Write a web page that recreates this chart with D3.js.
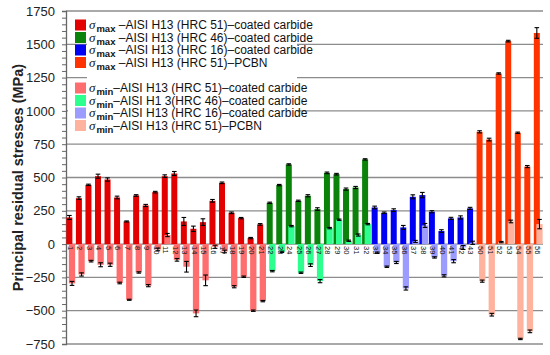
<!DOCTYPE html>
<html>
<head>
<meta charset="utf-8">
<script src="https://cdn.jsdelivr.net/npm/d3@7"></script>
<style>
  body { margin: 0; background: #fff; }
  svg { display: block; font-family: Arial, "Liberation Sans", sans-serif; }
</style>
</head>
<body>
<div class="chart"></div>
<script>
let FRAME_WIDTH = 550;
let FRAME_HEIGHT = 355;
let PLOT = {left: 66, right: 543, top: 11, bottom: 344};

// sample numbers along the zero line
let SAMPLES = ["1","2","3","4","5","6","7","8","9","10","11","12","13","14","15","16","17","18","19","20","21",
               "22","23","24","25","26","27","28","29","30","31","32",
               "33","34","35","36","37","38","39","40","41","42","43",
               "50","51","52","53","54","55","56"];
let GROUP_SIZES = [21, 11, 11, 7];

let SIGMA_MAX = [200, 345, 445, 510, 485, 350, 170, 365, 290, 390, 510, 530, 170, 115, 165, 325, 460, 235, 195, 45, 148,
                 310, 443, 598, 325, 363, 263, 535, 525, 413, 425, 636,
                 275, 235, 255, 125, 355, 368, 243, 98, 193, 200, 268,
                 843, 785, 1281, 1524, 836, 582, 1585];
let SIGMA_MIN = [-295, -228, -128, -155, -155, -292, -418, -213, -312, -40, 68, -118, -170, -520, -272, -20, -55, -320, -245, -500, -428,
                 -203, -58, 135, -215, -158, -278, 120, 183, 25, 68, 150,
                 -65, -170, -138, -333, 20, 140, -100, -238, -128, -25, 10,
                 -278, -530, 15, 170, -712, -655, 150];
let ERR_MAX = [15, 10, 5, 15, 12, 10, 4, 6, 8, 6, 10, 15, 30, 20, 25, 10, 6, 6, 5, 5, 6,
               5, 5, 5, 5, 8, 10, 6, 6, 8, 8, 5,
               10, 6, 10, 15, 15, 20, 8, 10, 8, 12, 8,
               8, 10, 5, 6, 5, 8, 40];
let ERR_MIN = [15, 12, 6, 15, 12, 6, 4, 5, 8, 10, 12, 10, 40, 25, 40, 12, 10, 8, 5, 5, 5,
               5, 5, 5, 5, 10, 12, 5, 5, 5, 8, 5,
               5, 5, 8, 12, 8, 15, 5, 8, 12, 15, 12,
               8, 10, 5, 10, 5, 10, 35];

let Y_TICKS = [-750, -500, -250, 0, 250, 500, 750, 1000, 1250, 1500, 1750];

let MAX_COLORS = ["#e30000", "#0b830b", "#0000f5", "#ff3300"];
let MIN_COLORS = ["#ff6e6e", "#2cff8e", "#9c9cff", "#ffb39f"];

let LEGEND_SUB = ["max", "max", "max", "max", "min", "min", "min", "min"];
let LEGEND_TEXT = [" –AISI H13 (HRC 51)–coated carbide",
                   " –AISI H13 (HRC 46)–coated carbide",
                   " –AISI H13 (HRC 16)–coated carbide",
                   " –AISI H13 (HRC 51)–PCBN",
                   "–AISI H13 (HRC 51)–coated carbide",
                   "–AISI H1 3(HRC 46)–coated carbide",
                   "–AISI H13 (HRC 16)–coated carbide",
                   "–AISI H13 (HRC 51)–PCBN"];
let LEGEND_COLORS = MAX_COLORS.concat(MIN_COLORS);

// group index of every sample
let groupOf = [];
GROUP_SIZES.forEach((n, g) => { for (let i = 0; i < n; i++) groupOf.push(g); });

let data = SAMPLES.map((s, i) => ({
  label: s, group: groupOf[i],
  max: SIGMA_MAX[i], min: SIGMA_MIN[i],
  emax: ERR_MAX[i], emin: ERR_MIN[i]
}));

let svg = d3.select(".chart").append("svg")
  .attr("width", FRAME_WIDTH)
  .attr("height", FRAME_HEIGHT);

const X_SCALE = d3.scaleBand()
  .domain(SAMPLES)
  .range([PLOT.left, PLOT.right]);

const Y_SCALE = d3.scaleLinear()
  .domain([-750, 1750])
  .range([PLOT.bottom, PLOT.top]);

let bw = X_SCALE.bandwidth();
let cx = (d) => X_SCALE(d.label) + bw / 2;

// gridlines
svg.append("g").selectAll("line")
  .data(Y_TICKS)
  .enter().append("line")
    .attr("x1", PLOT.left).attr("x2", PLOT.right)
    .attr("y1", (d) => Y_SCALE(d)).attr("y2", (d) => Y_SCALE(d))
    .attr("stroke", "#8c8c8c")
    .attr("stroke-width", 1.3);

// white legend background hides the gridlines behind it
svg.append("rect").attr("x", 87).attr("y", 15).attr("width", 210).attr("height", 70).attr("fill", "#fff");
svg.append("rect").attr("x", 68).attr("y", 84).attr("width", 229).attr("height", 48).attr("fill", "#fff");

// y axis with minor ticks
svg.append("g")
  .attr("transform", "translate(" + PLOT.left + ",0)")
  .call(d3.axisLeft(Y_SCALE).tickValues(d3.range(-750, 1751, 50)).tickSize(4).tickFormat(""))
  .call((g) => g.selectAll("line").attr("stroke", "#666"))
  .call((g) => g.select(".domain").attr("stroke", "#666").attr("stroke-width", 1.3));

svg.append("g")
  .attr("transform", "translate(" + (PLOT.left - 8) + ",0)")
  .call(d3.axisLeft(Y_SCALE).tickValues(Y_TICKS).tickSize(0).tickFormat((d) => d < 0 ? "−" + Math.abs(d) : d))
  .call((g) => g.select(".domain").remove())
  .call((g) => g.selectAll("text").attr("font-size", "13px").attr("fill", "#222")
                 .attr("font-family", "Arial, 'Liberation Sans', sans-serif"));

svg.append("text")
  .attr("transform", "translate(18," + ((PLOT.top + PLOT.bottom) / 2) + ") rotate(-90)")
  .attr("text-anchor", "middle")
  .attr("dominant-baseline", "central")
  .attr("font-size", "14.5px")
  .attr("font-weight", "bold")
  .attr("fill", "#222")
  .text("Principal residual stresses (MPa)");

// sigma max bars
let darkW = 6, lightW = 6.3;
svg.append("g").selectAll("rect")
  .data(data)
  .enter().append("rect")
    .attr("x", (d) => cx(d) - 4.4)
    .attr("width", darkW)
    .attr("y", (d) => Y_SCALE(Math.max(0, d.max)))
    .attr("height", (d) => Math.abs(Y_SCALE(d.max) - Y_SCALE(0)))
    .attr("fill", (d) => MAX_COLORS[d.group]);

// sigma min bars
svg.append("g").selectAll("rect")
  .data(data)
  .enter().append("rect")
    .attr("x", (d) => cx(d) - 1.9)
    .attr("width", lightW)
    .attr("y", (d) => Y_SCALE(Math.max(0, d.min)))
    .attr("height", (d) => Math.abs(Y_SCALE(d.min) - Y_SCALE(0)))
    .attr("fill", (d) => MIN_COLORS[d.group]);

// error bars
function errorBars(key, ekey, dx) {
  let g = svg.append("g").attr("stroke", "#000").attr("stroke-width", 1.1);
  data.forEach((d) => {
    let x = cx(d) + dx;
    let y1 = Y_SCALE(d[key] + d[ekey]), y2 = Y_SCALE(d[key] - d[ekey]);
    g.append("line").attr("x1", x).attr("x2", x).attr("y1", y1).attr("y2", y2);
    g.append("line").attr("x1", x - 2.3).attr("x2", x + 2.3).attr("y1", y1).attr("y2", y1);
    g.append("line").attr("x1", x - 2.3).attr("x2", x + 2.3).attr("y1", y2).attr("y2", y2);
  });
}
errorBars("max", "emax", -1.4);
errorBars("min", "emin", 1.25);

// sample numbers
svg.append("g").selectAll("text")
  .data(data)
  .enter().append("text")
    .attr("transform", (d) => "translate(" + (cx(d) - 0.5) + ",246) rotate(90)")
    .attr("dominant-baseline", "central")
    .attr("font-size", "7.5px")
    .attr("fill", "#111")
    .text((d) => d.label);

// legend
let ROW_Y = [25, 37.5, 50, 62.5, 88, 100.5, 113, 125.5];
let legend = svg.append("g");
LEGEND_TEXT.forEach((t, i) => {
  let y = ROW_Y[i];
  legend.append("rect")
    .attr("x", 75).attr("y", y - 5.5).attr("width", 11).attr("height", 11)
    .attr("fill", LEGEND_COLORS[i]);
  let txt = legend.append("text")
    .attr("x", 89).attr("y", y + 4)
    .attr("font-size", "12px")
    .attr("fill", "#111")
    .attr("xml:space", "preserve")
    .style("white-space", "pre");
  txt.append("tspan")
    .attr("font-family", "'Liberation Serif', 'DejaVu Serif', serif")
    .attr("font-style", "italic")
    .attr("font-size", "13px")
    .text("σ");
  txt.append("tspan")
    .attr("font-weight", "bold")
    .attr("font-size", "9.5px")
    .attr("dx", 1)
    .attr("dy", 3)
    .text(LEGEND_SUB[i]);
  txt.append("tspan")
    .attr("dy", -3)
    .text(t);
});
</script>
</body>
</html>
